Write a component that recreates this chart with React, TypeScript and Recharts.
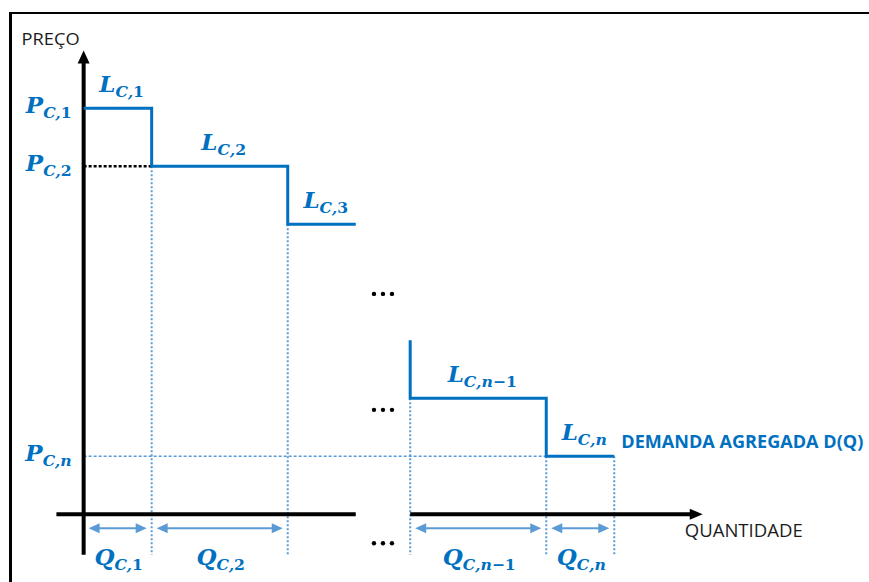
import React from 'react';
import { ComposedChart, Line, XAxis, YAxis, ReferenceLine, ReferenceDot } from 'recharts';

// ---------- data (schematic units) ----------
const headBreaks = [0, 10, 30, 40];          // quantity bounds of L_C,1 .. L_C,3
const headPrices = [70, 60, 50];             // price of each leading block
const headSubs = ['1', '2', '3'];
const tailBreaks = [48, 68, 78];             // quantity bounds of L_C,n-1, L_C,n
const tailPrices = [20, 10];
const tailSubs = ['n−1', 'n'];
const tailEntry = 30;                        // price where the tail of the curve enters
const priceTicks = [
  { sub: '1', p: 70 },
  { sub: '2', p: 60 },
  { sub: 'n', p: 10 },
];
const quantityBlocks = [
  { sub: '1', from: 0, to: 10 },
  { sub: '2', from: 10, to: 30 },
  { sub: 'n−1', from: 48, to: 68 },
  { sub: 'n', from: 68, to: 78 },
];
const yAxisRange = [-7, 80];
const xAxisFirst = [-4, 40];
const xAxisSecond = [48, 91];
const ellipsisMarks = [
  { q: 44, p: 38 },
  { q: 44, p: 18 },
  { q: 44, p: -5 },
];
const yTitle = 'PREÇO';
const xTitle = 'QUANTIDADE';
const curveTitle = 'DEMANDA AGREGADA D(Q)';

// ---------- derived ----------
type Pt = { q: number; p: number };
function stepPoints(breaks: number[], prices: number[], entry?: number): Pt[] {
  const pts: Pt[] = [];
  if (entry !== undefined) pts.push({ q: breaks[0], p: entry });
  prices.forEach((p, i) => {
    pts.push({ q: breaks[i], p });
    pts.push({ q: breaks[i + 1], p });
  });
  return pts;
}
const headData = stepPoints(headBreaks, headPrices);
const tailData = stepPoints(tailBreaks, tailPrices, tailEntry);
const steps = [
  ...headPrices.map((p, i) => ({ from: headBreaks[i], to: headBreaks[i + 1], p, sub: headSubs[i] })),
  ...tailPrices.map((p, i) => ({ from: tailBreaks[i], to: tailBreaks[i + 1], p, sub: tailSubs[i] })),
];
const priceAt = (q: number) =>
  Math.min(...steps.filter((s) => s.from === q || s.to === q).map((s) => s.p));
const boundaries = Array.from(new Set(quantityBlocks.flatMap((b) => [b.from, b.to]))).filter((q) => q !== 0);

// ---------- styles ----------
const BLUE = '#0070C0';
const LIGHT = '#5B9BD5';
const INK = '#1b1b1b';
const MATH_FONT = "'DejaVu Serif', 'Liberation Serif', serif";
const SANS = "'Open Sans', 'Liberation Sans', sans-serif";

const MathText = ({ x, y, main, sub, anchor, size = 23 }: any) => {
  const parts = sub.split(/(\d+)/).filter((s: string) => s.length);
  return (
    <text x={x} y={y} textAnchor={anchor} fill={BLUE} fontFamily={MATH_FONT} fontWeight="bold">
      <tspan fontSize={size} fontStyle="italic">{main}</tspan>
      <tspan fontSize={size * 0.68} dy={5} fontStyle="italic">C,</tspan>
      {parts.slice(1).length === 0 && null}
      {sub.split(/(\d+)/).filter((s: string) => s.length).map((s: string, i: number) => (
        <tspan key={i} fontSize={size * 0.68} fontStyle={/\d/.test(s) ? 'normal' : 'italic'}>{s}</tspan>
      ))}
    </text>
  );
};

const arrowShape =
  (color: string, width: number, len: number, half: number, opts: { both?: boolean; dy?: number; inset?: number; head?: boolean } = {}) =>
  (props: any) => {
    const { both = false, dy = 0, inset = 0, head = true } = opts;
    let { x1, y1, x2, y2 } = props;
    y1 += dy;
    y2 += dy;
    const L = Math.hypot(x2 - x1, y2 - y1) || 1;
    const ux = (x2 - x1) / L;
    const uy = (y2 - y1) / L;
    x1 += ux * inset; y1 += uy * inset;
    x2 -= ux * inset; y2 -= uy * inset;
    const px = -uy, py = ux;
    const tri = (tx: number, ty: number, dx: number, dyy: number) => {
      const bx = tx - dx * len, by = ty - dyy * len;
      return `${tx},${ty} ${bx + px * half},${by + py * half} ${bx - px * half},${by - py * half}`;
    };
    const sx = both ? x1 + ux * (len - 1) : x1;
    const sy = both ? y1 + uy * (len - 1) : y1;
    const ex = head ? x2 - ux * (len - 1) : x2;
    const ey = head ? y2 - uy * (len - 1) : y2;
    return (
      <g>
        <line x1={sx} y1={sy} x2={ex} y2={ey} stroke={color} strokeWidth={width} />
        {head && <polygon points={tri(x2, y2, ux, uy)} fill={color} />}
        {both && <polygon points={tri(x1, y1, -ux, -uy)} fill={color} />}
      </g>
    );
  };

export default function App() {
  return (
    <div style={{ position: 'absolute', left: 0, top: 0, width: 869, height: 582, background: '#fff', overflow: 'hidden' }}>
      <div
        style={{
          position: 'absolute',
          left: 9,
          top: 12,
          width: 870,
          height: 580,
          borderTop: '2px solid #000',
          borderLeft: '3px solid #000',
        }}
      />
      <div style={{ position: 'absolute', left: 0, top: 0 }}>
        <ComposedChart width={869} height={582} margin={{ top: 4, right: 3, bottom: 4, left: 2 }}>
          <XAxis type="number" dataKey="q" domain={[-12, 115]} hide allowDataOverflow />
          <YAxis type="number" dataKey="p" domain={[-11, 88]} hide allowDataOverflow width={0} />

          {/* dotted guides */}
          {boundaries.map((q) => (
            <ReferenceLine
              key={'v' + q}
              segment={[{ x: q, y: priceAt(q) }, { x: q, y: yAxisRange[0] }]}
              stroke={LIGHT}
              strokeWidth={2}
              strokeDasharray="2 2"
            />
          ))}
          <ReferenceLine
            segment={[{ x: 0, y: priceTicks[2].p }, { x: quantityBlocks[3].from, y: priceTicks[2].p }]}
            stroke={LIGHT}
            strokeWidth={1.5}
            strokeDasharray="3 2"
          />
          <ReferenceLine
            segment={[{ x: 0, y: priceTicks[1].p }, { x: headBreaks[1], y: priceTicks[1].p }]}
            stroke="#000"
            strokeWidth={2.5}
            strokeDasharray="3 2"
          />

          {/* axes */}
          <ReferenceLine
            segment={[{ x: 0, y: yAxisRange[0] }, { x: 0, y: yAxisRange[1] }]}
            shape={arrowShape('#000', 4, 13, 6)}
          />
          <ReferenceLine
            segment={[{ x: xAxisFirst[0], y: 0 }, { x: xAxisFirst[1], y: 0 }]}
            shape={arrowShape('#000', 4, 13, 6, { head: false })}
          />
          <ReferenceLine
            segment={[{ x: xAxisSecond[0], y: 0 }, { x: xAxisSecond[1], y: 0 }]}
            shape={arrowShape('#000', 4, 13, 5.5)}
          />

          {/* quantity double arrows */}
          {quantityBlocks.map((b) => (
            <ReferenceLine
              key={'qa' + b.sub}
              segment={[{ x: b.from, y: 0 }, { x: b.to, y: 0 }]}
              shape={arrowShape(LIGHT, 2, 11, 5, { both: true, dy: 14, inset: 5 })}
            />
          ))}

          {/* demand curve */}
          <Line data={headData} dataKey="p" type="linear" stroke={BLUE} strokeWidth={3} dot={false} activeDot={false} isAnimationActive={false} />
          <Line data={tailData} dataKey="p" type="linear" stroke={BLUE} strokeWidth={3} dot={false} activeDot={false} isAnimationActive={false} />

          {/* step labels */}
          {steps.map((s) => (
            <ReferenceDot
              key={'L' + s.sub}
              x={(s.from + s.to) / 2}
              y={s.p}
              r={0}
              shape={(pr: any) => <MathText x={pr.cx + 4} y={pr.cy - 16} main="L" sub={s.sub} anchor="middle" />}
            />
          ))}
          {/* price labels */}
          {priceTicks.map((t) => (
            <ReferenceDot
              key={'P' + t.sub}
              x={0}
              y={t.p}
              r={0}
              shape={(pr: any) => <MathText x={pr.cx - 12} y={pr.cy + 5} main="P" sub={t.sub} anchor="end" />}
            />
          ))}
          {/* quantity labels */}
          {quantityBlocks.map((b) => (
            <ReferenceDot
              key={'Q' + b.sub}
              x={(b.from + b.to) / 2}
              y={0}
              r={0}
              shape={(pr: any) => <MathText x={pr.cx + 1} y={pr.cy + 51} main="Q" sub={b.sub} anchor="middle" />}
            />
          ))}
          {/* ellipses */}
          {ellipsisMarks.map((m, i) => (
            <ReferenceDot
              key={'e' + i}
              x={m.q}
              y={m.p}
              r={0}
              shape={(pr: any) => (
                <g fill="#000">
                  <circle cx={pr.cx - 9} cy={pr.cy} r={2.2} />
                  <circle cx={pr.cx} cy={pr.cy} r={2.2} />
                  <circle cx={pr.cx + 9} cy={pr.cy} r={2.2} />
                </g>
              )}
            />
          ))}
          {/* titles */}
          <ReferenceDot
            x={0}
            y={yAxisRange[1]}
            r={0}
            shape={(pr: any) => (
              <text x={pr.cx - 62} y={pr.cy - 5} fontFamily={SANS} fontSize={17} fill={INK} textLength={58} lengthAdjust="spacingAndGlyphs">
                {yTitle}
              </text>
            )}
          />
          <ReferenceDot
            x={xAxisSecond[1]}
            y={0}
            r={0}
            shape={(pr: any) => (
              <text x={pr.cx - 18} y={pr.cy + 23} fontFamily={SANS} fontSize={18} fill={INK} textLength={118} lengthAdjust="spacingAndGlyphs">
                {xTitle}
              </text>
            )}
          />
          <ReferenceDot
            x={tailBreaks[2]}
            y={tailPrices[1]}
            r={0}
            shape={(pr: any) => (
              <text x={pr.cx + 7} y={pr.cy - 8} fontFamily={SANS} fontWeight="bold" fontSize={18} fill={BLUE} textLength={242} lengthAdjust="spacingAndGlyphs">
                {curveTitle}
              </text>
            )}
          />
        </ComposedChart>
      </div>
    </div>
  );
}
